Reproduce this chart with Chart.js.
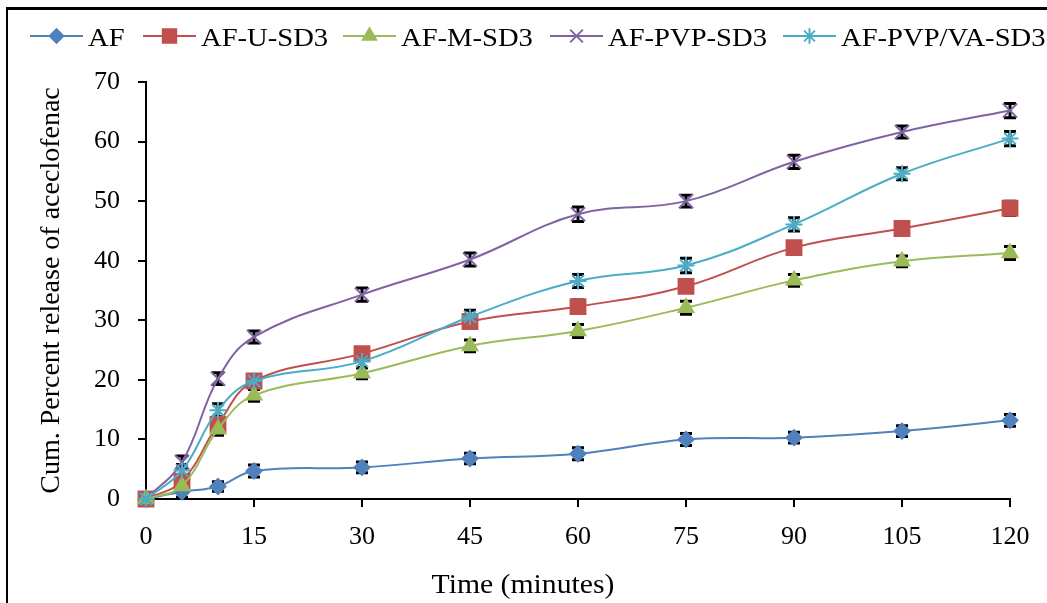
<!DOCTYPE html>
<html>
<head>
<meta charset="utf-8">
<style>
  html, body { margin: 0; padding: 0; background: #fff; }
  canvas { display: block; }
</style>
<script src="https://cdn.jsdelivr.net/npm/chart.js@4/dist/chart.umd.min.js"></script>
</head>
<body>
<canvas id="release-chart" width="1047" height="603"></canvas>
<script>
(function () {
  "use strict";

  // Data (minutes vs cumulative % released)
  const times = [0, 5, 10, 15, 30, 45, 60, 75, 90, 105, 120];
  const seriesNames = ["AF", "AF-U-SD3", "AF-M-SD3", "AF-PVP-SD3", "AF-PVP/VA-SD3"];
  const afValues     = [0, 1.2, 2.1, 4.7, 5.3, 6.8, 7.6, 10.0, 10.3, 11.4, 13.2];
  const afUValues    = [0, 3.0, 12.5, 19.8, 24.4, 29.8, 32.3, 35.7, 42.2, 45.4, 48.8];
  const afMValues    = [0, 2.2, 11.7, 17.4, 21.1, 25.7, 28.2, 32.1, 36.7, 39.9, 41.3];
  const afPvpValues  = [0, 6.2, 20.2, 27.2, 34.3, 40.2, 47.8, 50.0, 56.6, 61.6, 65.2];
  const afPvpVaValues = [0, 4.8, 14.9, 19.8, 23.1, 30.6, 36.6, 39.2, 46.1, 54.6, 60.5];
  // error bar half-lengths
  const afErr     = [0.4, 0.9, 0.8, 1.0, 0.9, 0.9, 1.0, 1.0, 0.9, 0.9, 1.0];
  const afUErr    = [0.4, 1.0, 1.2, 1.1, 0.8, 0.9, 1.1, 1.0, 1.0, 1.0, 1.2];
  const afMErr    = [0.4, 0.9, 1.0, 1.0, 0.9, 1.0, 1.1, 1.1, 1.0, 0.9, 1.1];
  const afPvpErr  = [0.4, 1.0, 1.0, 1.0, 1.1, 1.1, 1.2, 1.0, 1.1, 1.0, 1.2];
  const afPvpVaErr = [0.4, 1.0, 1.1, 1.0, 1.0, 1.1, 1.1, 1.2, 1.1, 1.0, 1.2];
  const xTickStep = 15;
  const yMax = 70, yStep = 10;
  const xTitle = "Time (minutes)";
  const yTitle = "Cum. Percent release of aceclofenac";

  const FONT = '"Liberation Serif", "Times New Roman", serif';
  Chart.defaults.color = "#000";
  Chart.defaults.font.family = FONT;

  const styles = [
    { color: "#4F81BD", pointStyle: "rectRot",  radius: 7.5, order: 4 },
    { color: "#C0504D", pointStyle: "rect",     radius: 10.5, order: 3 },
    { color: "#9BBB59", pointStyle: "triangle", radius: 8.5, order: 2 },
    { color: "#8064A2", pointStyle: "crossRot", radius: 10, order: 1 },
    { color: "#4BACC6", pointStyle: "star",     radius: 8.5, order: 0 }
  ];
  const values = [afValues, afUValues, afMValues, afPvpValues, afPvpVaValues];
  const errors = [afErr, afUErr, afMErr, afPvpErr, afPvpVaErr];

  const datasets = seriesNames.map(function (name, i) {
    const s = styles[i];
    return {
      label: name,
      data: times.map(function (t, j) { return { x: t, y: values[i][j] }; }),
      errs: errors[i],
      borderColor: s.color,
      backgroundColor: s.color,
      borderWidth: 2,
      pointStyle: s.pointStyle,
      pointRadius: s.radius,
      pointBorderWidth: 2,
      pointBackgroundColor: s.color,
      pointBorderColor: s.color,
      tension: 0.4,
      clip: false,
      order: s.order
    };
  });

  // black error bars, under the markers
  const errorBars = {
    id: "errorBars",
    beforeDatasetsDraw(chart) {
      const ctx = chart.ctx, ys = chart.scales.y;
      ctx.save();
      ctx.strokeStyle = "#000";
      ctx.lineWidth = 3;
      chart.data.datasets.forEach(function (ds, i) {
        const meta = chart.getDatasetMeta(i);
        meta.data.forEach(function (pt, j) {
          const v = ds.data[j].y, e = ds.errs[j];
          const top = ys.getPixelForValue(v + e), bot = ys.getPixelForValue(v - e);
          ctx.beginPath();
          ctx.moveTo(pt.x, top); ctx.lineTo(pt.x, bot);
          ctx.moveTo(pt.x - 6, top); ctx.lineTo(pt.x + 6, top);
          ctx.moveTo(pt.x - 6, bot); ctx.lineTo(pt.x + 6, bot);
          ctx.stroke();
        });
      });
      ctx.restore();
    }
  };

  // stretched text like the original export
  function wideText(ctx, text, x, y, size, stretch, align) {
    ctx.save();
    ctx.font = size + "px " + FONT;
    ctx.textBaseline = "alphabetic";
    ctx.textAlign = align;
    ctx.translate(x, y);
    ctx.scale(stretch, 1);
    ctx.fillText(text, 0, 0);
    ctx.restore();
  }

  // Excel style legend: line with marker, then label
  const legendStarts = [30, 143, 343, 550, 783];
  const excelLegend = {
    id: "excelLegend",
    afterDraw(chart) {
      const ctx = chart.ctx;
      const y = 36;
      ctx.save();
      chart.data.datasets.forEach(function (ds, i) {
        const x0 = legendStarts[i];
        ctx.strokeStyle = ds.borderColor;
        ctx.fillStyle = ds.borderColor;
        ctx.lineWidth = 2;
        ctx.beginPath();
        ctx.moveTo(x0, y); ctx.lineTo(x0 + 53, y);
        ctx.stroke();
        Chart.helpers.drawPoint(ctx, {
          pointStyle: ds.pointStyle, radius: ds.pointRadius * 0.9, rotation: 0, borderWidth: 2
        }, x0 + 26.5, y);
        ctx.fillStyle = "#000";
        wideText(ctx, ds.label, x0 + 58, 46, 26, 1.1, "left");
      });
      ctx.fillStyle = "#000";
      wideText(ctx, xTitle, 523, 593, 27, 1.1, "center");
      ctx.restore();

      // outer frame bits
      ctx.save();
      ctx.fillStyle = "#000";
      ctx.fillRect(7, 7, 1040, 3);
      ctx.fillRect(6, 7, 2, 596);
      ctx.restore();
    }
  };

  new Chart(document.getElementById("release-chart").getContext("2d"), {
    type: "line",
    data: { datasets: datasets },
    options: {
      responsive: false,
      animation: false,
      layout: { padding: { top: 82, right: 37, left: 0, bottom: 0 } },
      plugins: { legend: { display: false }, tooltip: { enabled: false } },
      scales: {
        x: {
          type: "linear",
          min: 0, max: 120,
          ticks: { stepSize: xTickStep, padding: 15, font: { size: 26 } },
          grid: { drawOnChartArea: false, drawTicks: true, tickLength: 8, color: "#000", lineWidth: 2 },
          border: { color: "#000", width: 2 },
          afterFit: function (scale) { scale.height = 104; }
        },
        y: {
          min: 0, max: yMax,
          ticks: { stepSize: yStep, padding: 18, font: { size: 26 } },
          grid: { drawOnChartArea: false, drawTicks: true, tickLength: 8, color: "#000", lineWidth: 2 },
          border: { color: "#000", width: 2 },
          title: { display: true, text: yTitle, font: { size: 28 }, padding: { top: 35, bottom: 0 } },
          afterFit: function (scale) { scale.width = 146; }
        }
      }
    },
    plugins: [errorBars, excelLegend]
  });
})();
</script>
</body>
</html>
